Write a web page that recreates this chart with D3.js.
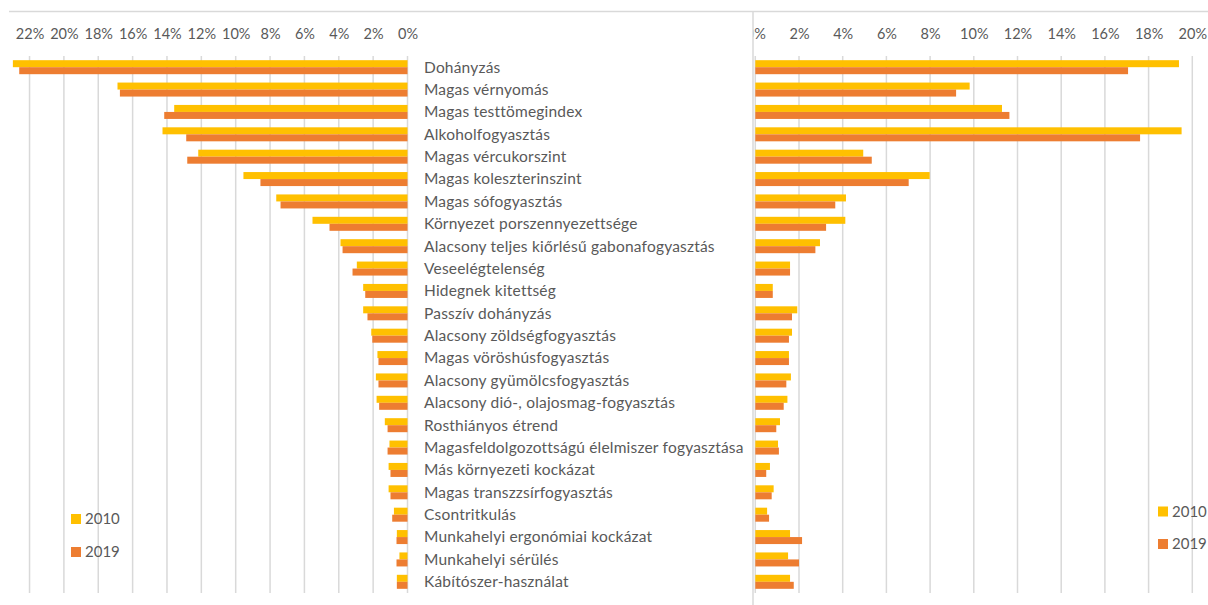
<!DOCTYPE html>
<html>
<head>
<meta charset="utf-8">
<script src="https://cdn.jsdelivr.net/npm/d3@7"></script>
<style>
  body { margin: 0; background: #fff; }
  text { font-family: Lato, "Open Sans", sans-serif; fill: #595959; }
</style>
</head>
<body>
<div id="chart"></div>
<script>
var width = 1208,
    height = 605;

var categories = [
  "Dohányzás", "Magas vérnyomás", "Magas testtömegindex", "Alkoholfogyasztás",
  "Magas vércukorszint", "Magas koleszterinszint", "Magas sófogyasztás",
  "Környezet porszennyezettsége", "Alacsony teljes kiőrlésű gabonafogyasztás",
  "Veseelégtelenség", "Hidegnek kitettség", "Passzív dohányzás",
  "Alacsony zöldségfogyasztás", "Magas vöröshúsfogyasztás",
  "Alacsony gyümölcsfogyasztás", "Alacsony dió-, olajosmag-fogyasztás",
  "Rosthiányos étrend", "Magasfeldolgozottságú élelmiszer fogyasztása",
  "Más környezeti kockázat", "Magas transzzsírfogyasztás", "Csontritkulás",
  "Munkahelyi ergonómiai kockázat", "Munkahelyi sérülés", "Kábítószer-használat"
];

var years = ["2010", "2019"];
var colors = ["#ffc000", "#ed7d31"];

// left panel (axis runs right to left)
var left2010 = [22.97, 16.88, 13.58, 14.26, 12.18, 9.55, 7.64, 5.53, 3.90, 2.95, 2.58, 2.58,
                2.11, 1.75, 1.84, 1.80, 1.32, 1.05, 1.10, 1.10, 0.79, 0.62, 0.47, 0.62];
var left2019 = [22.60, 16.74, 14.16, 12.88, 12.82, 8.56, 7.39, 4.54, 3.78, 3.20, 2.46, 2.33,
                2.05, 1.69, 1.69, 1.65, 1.16, 1.16, 0.99, 0.99, 0.89, 0.64, 0.64, 0.62];

// right panel
var right2010 = [19.39, 9.81, 11.29, 19.51, 4.94, 7.98, 4.15, 4.12, 2.96, 1.59, 0.80, 1.92,
                 1.68, 1.54, 1.63, 1.47, 1.13, 1.04, 0.67, 0.84, 0.54, 1.59, 1.50, 1.59];
var right2019 = [17.06, 9.19, 11.63, 17.61, 5.33, 7.02, 3.66, 3.24, 2.75, 1.59, 0.80, 1.68,
                 1.54, 1.54, 1.42, 1.30, 0.96, 1.08, 0.50, 0.75, 0.63, 2.14, 2.00, 1.76];

var leftTicks = d3.range(0, 0.2201, 0.02);
var rightTicks = d3.range(0, 0.2001, 0.02);

var plotTop = 56, plotBottom = 593;

var svg = d3.select("#chart").append("svg")
    .attr("width", width)
    .attr("height", height);

var y = d3.scaleBand()
    .domain(categories)
    .range([plotTop, plotBottom])
    .paddingInner(0.374)
    .paddingOuter(0.187);

var ySub = d3.scaleBand()
    .domain(years)
    .range([0, y.bandwidth()]);

var xL = d3.scaleLinear().domain([0, 0.24]).range([407.5, 407.5 - 0.24 * 1718]);
var xR = d3.scaleLinear().domain([0, 0.20]).range([755.3, 1192.3]);

var pct = d3.format(".0%");

// frame lines
svg.append("line")
    .attr("x1", 9).attr("x2", width)
    .attr("y1", 11.5).attr("y2", 11.5)
    .attr("stroke", "#d9d9d9").attr("stroke-width", 1.5);
svg.append("line")
    .attr("x1", 753).attr("x2", 753)
    .attr("y1", 11.5).attr("y2", height)
    .attr("stroke", "#d9d9d9").attr("stroke-width", 1.5);

svg.append("clipPath").attr("id", "rightClip")
  .append("rect").attr("x", 753.8).attr("y", 0).attr("width", width).attr("height", height);

function panel(x, ticks, s2010, s2019, clip) {
    var g = svg.append("g");
    if (clip) g.attr("clip-path", "url(#rightClip)");

    // gridlines
    g.selectAll(".grid").data(ticks).enter()
      .append("line")
        .attr("x1", function(d) { return x(d); })
        .attr("x2", function(d) { return x(d); })
        .attr("y1", plotTop).attr("y2", plotBottom)
        .attr("stroke", "#d9d9d9").attr("stroke-width", 1.5);

    // tick labels
    var axis = g.append("g")
        .attr("transform", "translate(0,39)")
        .call(d3.axisTop(x).tickValues(ticks).tickFormat(pct).tickSize(0).tickPadding(0));
    axis.select(".domain").remove();
    axis.selectAll("text")
        .attr("fill", "#595959")
        .style("font-size", "14.5px")
        .style("font-family", "Lato, 'Open Sans', sans-serif");

    var series = [s2010, s2019];
    years.forEach(function(yr, i) {
        g.selectAll(".bar" + yr).data(series[i]).enter()
          .append("rect")
            .attr("x", function(d) { return Math.min(x(0), x(d / 100)); })
            .attr("width", function(d) { return Math.abs(x(d / 100) - x(0)); })
            .attr("y", function(d, j) { return y(categories[j]) + ySub(yr); })
            .attr("height", ySub.bandwidth())
            .attr("fill", colors[i]);
    });
}

panel(xL, leftTicks, left2010, left2019, false);
panel(xR, rightTicks, right2010, right2019, true);

// category labels
svg.append("g").selectAll("text")
    .data(categories).enter()
  .append("text")
    .attr("x", 424)
    .attr("y", function(d) { return y(d) + y.bandwidth() / 2; })
    .attr("dy", "0.35em")
    .style("font-size", "15.5px")
    .style("letter-spacing", "0.2px")
    .text(function(d) { return d; });

// legends
function legend(x0, y0, gap) {
    var lg = svg.append("g");
    years.forEach(function(yr, i) {
        lg.append("rect")
            .attr("x", x0).attr("y", y0 + i * gap - 5)
            .attr("width", 10).attr("height", 10)
            .attr("fill", colors[i]);
        lg.append("text")
            .attr("x", x0 + 14).attr("y", y0 + i * gap)
            .attr("dy", "0.35em")
            .style("font-size", "15px")
            .text(yr);
    });
}
legend(71, 519, 33);
legend(1158, 511.5, 32.5);
</script>
</body>
</html>
